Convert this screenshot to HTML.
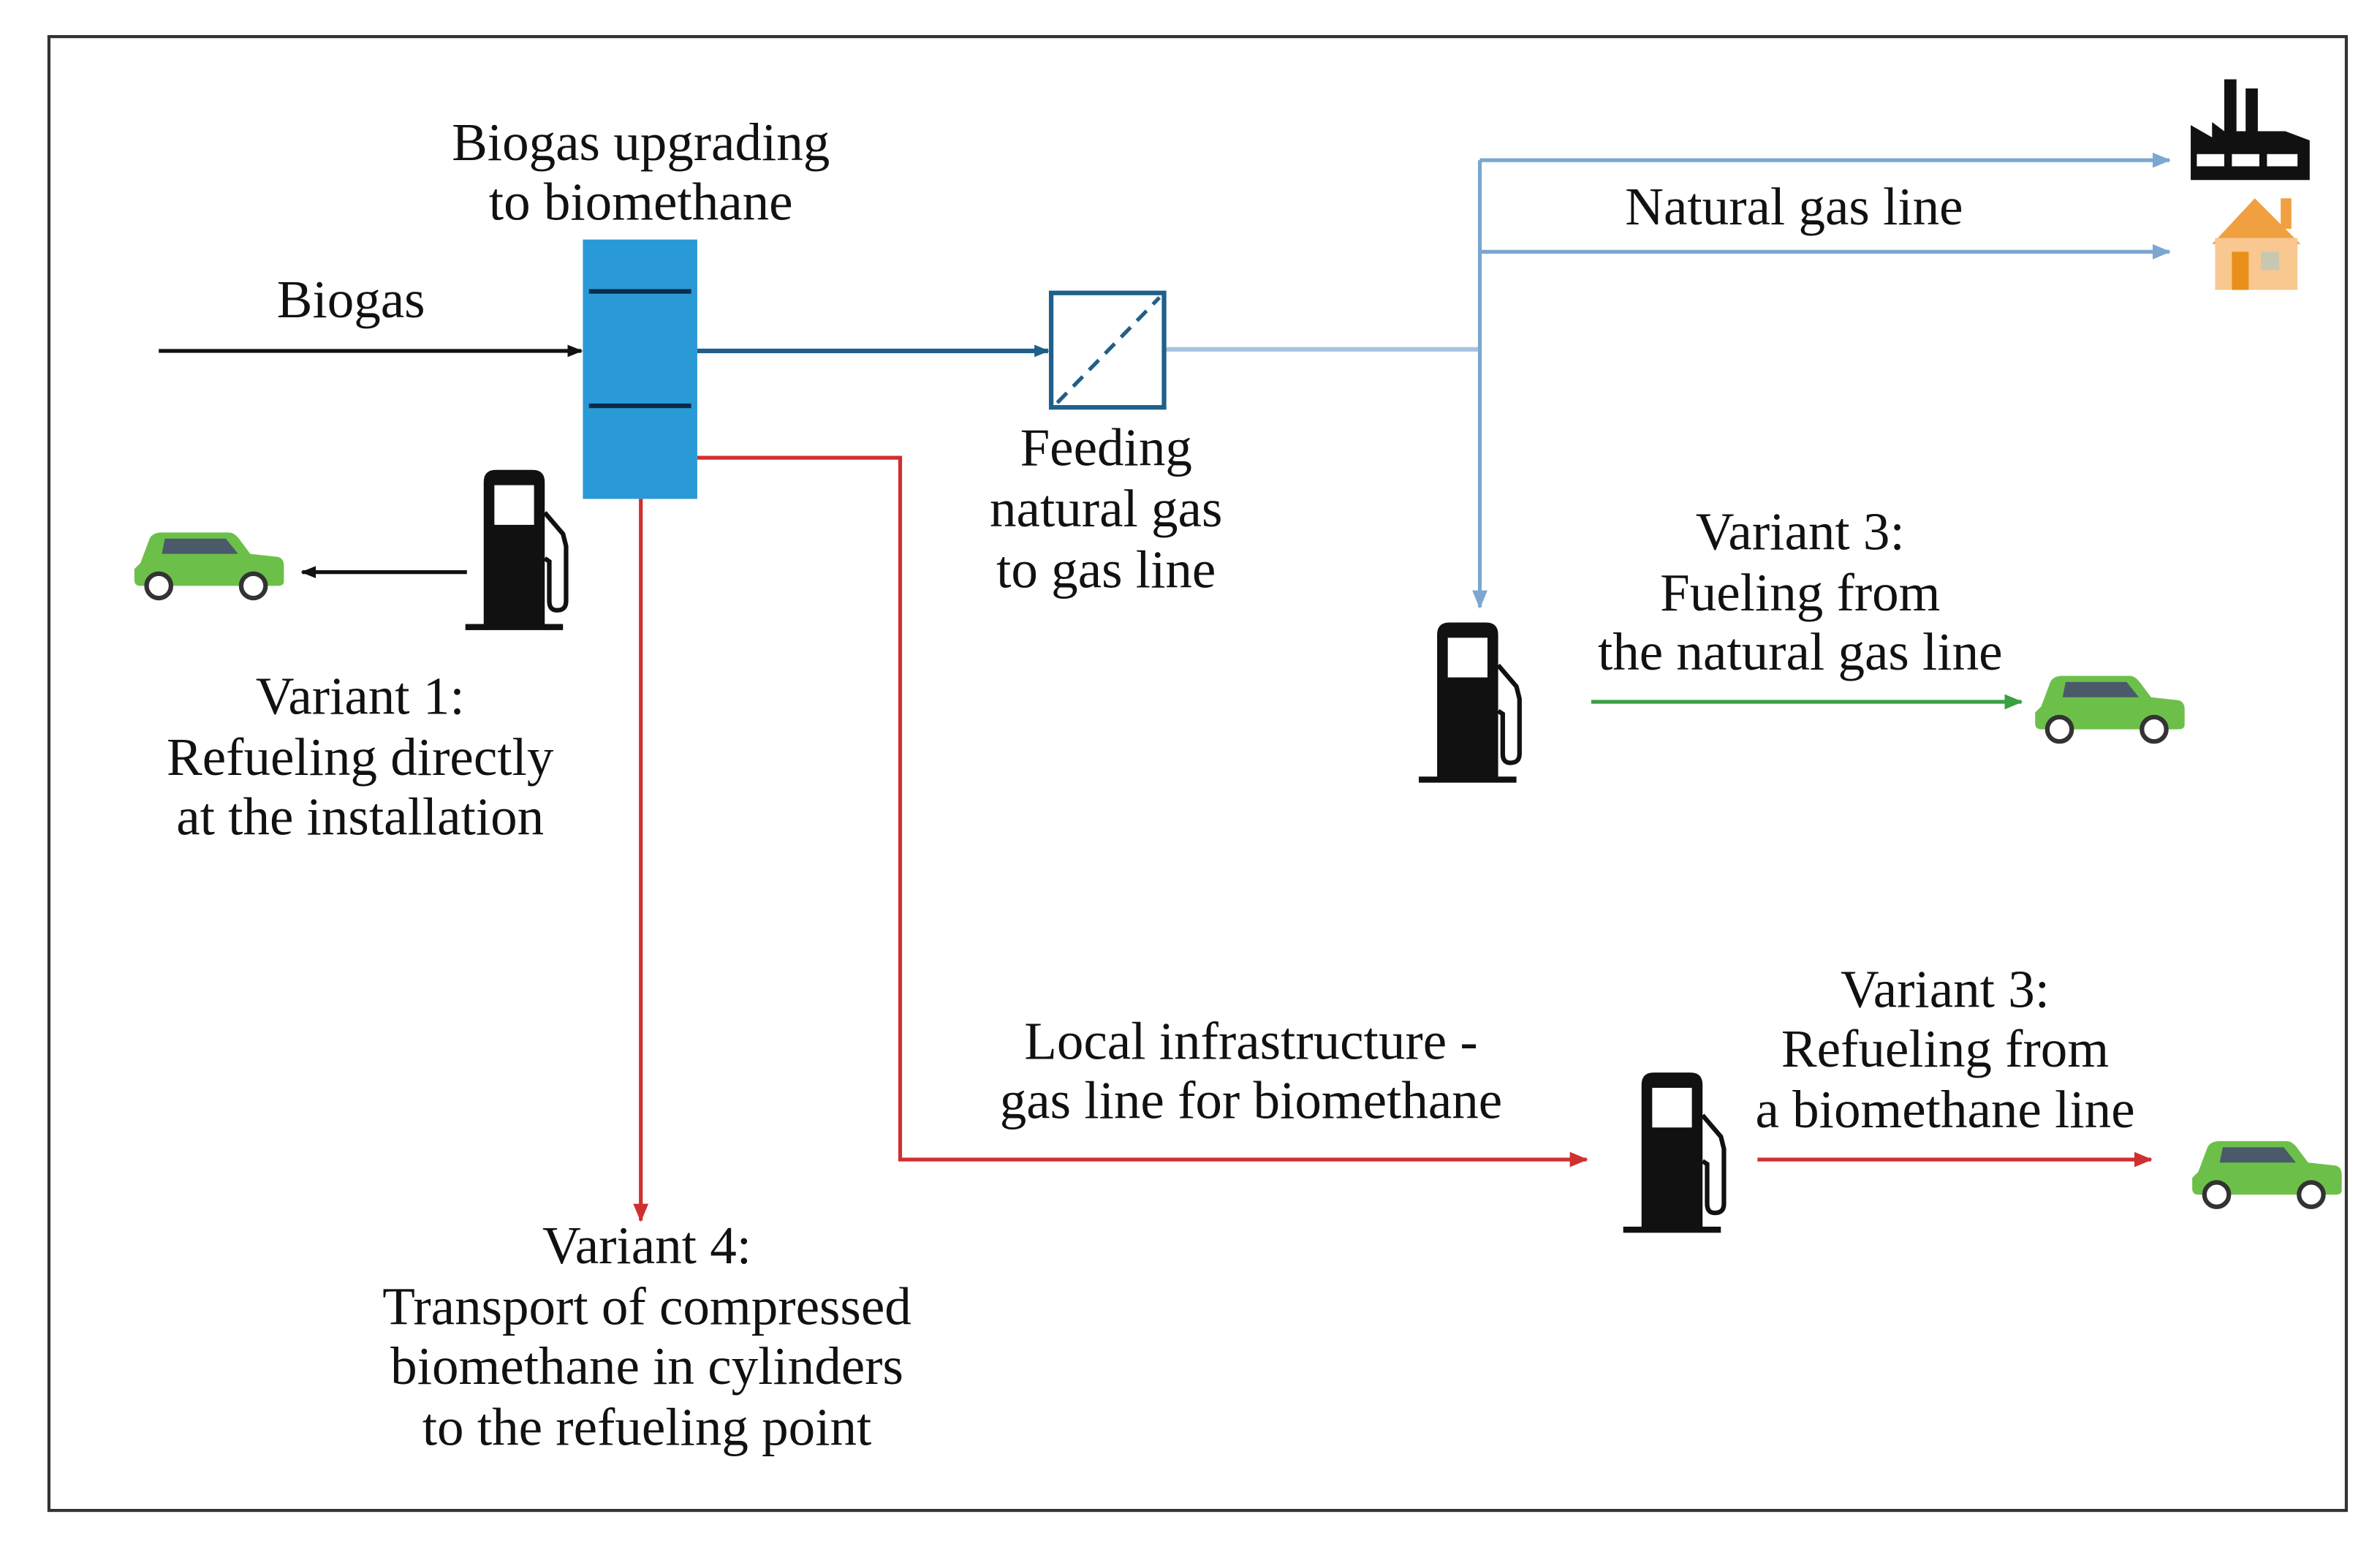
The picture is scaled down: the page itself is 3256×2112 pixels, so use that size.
<!DOCTYPE html>
<html><head><meta charset="utf-8"><style>
html,body{margin:0;padding:0;background:#fff;}
svg{display:block;}
text{font-family:"Liberation Serif",serif;font-size:35px;fill:#111;text-anchor:middle;}
</style></head><body>
<svg width="3256" height="2112" viewBox="0 0 1560 1012" xmlns="http://www.w3.org/2000/svg">
<defs>
<marker id="ak" markerWidth="10" markerHeight="10" refX="9" refY="5" orient="auto" markerUnits="userSpaceOnUse"><path d="M0,1 L10,5 L0,9 z" fill="#111"/></marker>
<marker id="ab" markerWidth="10" markerHeight="10" refX="9" refY="5" orient="auto" markerUnits="userSpaceOnUse"><path d="M0,1 L10,5 L0,9 z" fill="#1f5f8b"/></marker>
<marker id="al" markerWidth="12" markerHeight="12" refX="11" refY="6" orient="auto" markerUnits="userSpaceOnUse"><path d="M0,1 L12,6 L0,11 z" fill="#7ba7d0"/></marker>
<marker id="ar" markerWidth="12" markerHeight="12" refX="11" refY="6" orient="auto" markerUnits="userSpaceOnUse"><path d="M0,1 L12,6 L0,11 z" fill="#d03030"/></marker>
<marker id="ag" markerWidth="12" markerHeight="12" refX="11" refY="6" orient="auto" markerUnits="userSpaceOnUse"><path d="M0,1 L12,6 L0,11 z" fill="#3aa040"/></marker>
<g id="pump">
<path d="M12,102 L12,8 Q12,0 20,0 L44,0 Q52,0 52,8 L52,102 Z" fill="#111"/>
<rect x="19" y="10" width="26" height="26" fill="#fff"/>
<rect x="0" y="101" width="64" height="4" fill="#111"/>
<path d="M52,28 L64,42 L66,50 L66,86 Q66,92 60,92 Q55,92 55,86 L55,60 L52,58" fill="none" stroke="#111" stroke-width="3"/>
</g>
<g id="car">
<path d="M4,22 L10,6 Q12,2 18,2 L62,2 Q66,2 70,8 L76,16 L94,18 Q98,19 98,24 L98,34 Q98,37 94,37 L4,37 Q0,37 0,33 L0,26 Z" fill="#6cc04a"/>
<path d="M20,6 L60,6 L68,16 L18,16 Z" fill="#4a5a6a"/>
<circle cx="16" cy="37" r="8" fill="#fff" stroke="#333" stroke-width="3"/>
<circle cx="78" cy="37" r="8" fill="#fff" stroke="#333" stroke-width="3"/>
</g>
</defs>
<rect x="32" y="24" width="1506" height="966" fill="none" stroke="#333" stroke-width="2"/>

<line x1="104" y1="230" x2="381" y2="230" stroke="#111" stroke-width="2.5" marker-end="url(#ak)"/>
<line x1="457" y1="230" x2="687" y2="230" stroke="#1f5f8b" stroke-width="3" marker-end="url(#ab)"/>
<polyline points="763,229 970,229" fill="none" stroke="#a5c4e0" stroke-width="3"/>
<line x1="970" y1="105" x2="970" y2="398" stroke="#7ba7d0" stroke-width="2.5" marker-end="url(#al)"/>
<line x1="970" y1="105" x2="1422" y2="105" stroke="#7ba7d0" stroke-width="2.5" marker-end="url(#al)"/>
<line x1="970" y1="165" x2="1422" y2="165" stroke="#7ba7d0" stroke-width="2.5" marker-end="url(#al)"/>
<polyline points="457,300 590,300 590,760 1040,760" fill="none" stroke="#d03030" stroke-width="2.5" marker-end="url(#ar)"/>
<line x1="420" y1="327" x2="420" y2="800" stroke="#d03030" stroke-width="2.5" marker-end="url(#ar)"/>
<line x1="306" y1="375" x2="198" y2="375" stroke="#111" stroke-width="2.5" marker-end="url(#ak)"/>
<line x1="1043" y1="460" x2="1325" y2="460" stroke="#3aa040" stroke-width="2.5" marker-end="url(#ag)"/>
<line x1="1152" y1="760" x2="1410" y2="760" stroke="#d03030" stroke-width="2.5" marker-end="url(#ar)"/>

<rect x="382" y="157" width="75" height="170" fill="#2a9ad6"/>
<line x1="386" y1="191" x2="453" y2="191" stroke="#0a2a4a" stroke-width="3"/>
<line x1="386" y1="266" x2="453" y2="266" stroke="#0a2a4a" stroke-width="3"/>
<rect x="689" y="192" width="74" height="75" fill="#fff" stroke="#1f5f8b" stroke-width="3"/>
<line x1="693" y1="264" x2="760" y2="195" stroke="#1f5f8b" stroke-width="2.5" stroke-dasharray="9,6"/>

<use href="#pump" x="305" y="308"/>
<use href="#pump" x="930" y="408"/>
<use href="#pump" x="1064" y="703"/>
<use href="#car" x="88" y="347"/>
<use href="#car" x="1334" y="441"/>
<use href="#car" x="1437" y="746"/>
<path d="M1436,118 L1436,82 L1450,90 L1450,80 L1458,86 L1458,52 L1466,52 L1466,86 L1472,86 L1472,58 L1480,58 L1480,86 L1498,86 L1514,92 L1514,118 Z" fill="#111"/>
<rect x="1440" y="101" width="18" height="8" fill="#fff"/>
<rect x="1463" y="101" width="18" height="8" fill="#fff"/>
<rect x="1486" y="101" width="20" height="8" fill="#fff"/>
<path d="M1450,160 L1478,130 L1508,160 Z" fill="#f0a040"/>
<rect x="1495" y="130" width="7" height="20" fill="#f0a040"/>
<rect x="1452" y="156" width="54" height="34" fill="#f8c890"/>
<rect x="1463" y="165" width="11" height="25" fill="#e8901a"/>
<rect x="1482" y="165" width="12" height="12" fill="#c8c8b0"/>

<text x="420" y="105">Biogas upgrading</text>
<text x="420" y="144">to biomethane</text>
<text x="230" y="208">Biogas</text>
<text x="725" y="305">Feeding</text>
<text x="725" y="345">natural gas</text>
<text x="725" y="385">to gas line</text>
<text x="1176" y="147">Natural gas line</text>
<text x="1180" y="360">Variant 3:</text>
<text x="1180" y="400">Fueling from</text>
<text x="1180" y="439">the natural gas line</text>
<text x="236" y="468">Variant 1:</text>
<text x="236" y="508">Refueling directly</text>
<text x="236" y="547">at the installation</text>
<text x="820" y="694">Local infrastructure -</text>
<text x="820" y="733">gas line for biomethane</text>
<text x="1275" y="660">Variant 3:</text>
<text x="1275" y="699">Refueling from</text>
<text x="1275" y="739">a biomethane line</text>
<text x="424" y="828">Variant 4:</text>
<text x="424" y="868">Transport of compressed</text>
<text x="424" y="907">biomethane in cylinders</text>
<text x="424" y="947">to the refueling point</text>
</svg>
</body></html>
